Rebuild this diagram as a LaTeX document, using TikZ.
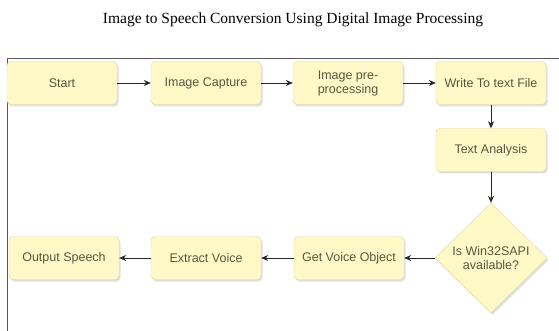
\documentclass[tikz,border=0pt]{standalone}
\usepackage{fontspec}
\setmainfont{Liberation Serif}
\newfontfamily\boxfont{Liberation Sans}
\usetikzlibrary{shapes.geometric,shadows,arrows.meta}
\definecolor{boxfill}{HTML}{FFF9C8}
\definecolor{boxline}{HTML}{E2D79C}
\definecolor{boxtext}{HTML}{57573F}
\definecolor{framegray}{HTML}{5A5A5A}
\tikzset{
  stepbox/.style={draw=boxline, fill=boxfill, rounded corners=4pt,
    minimum width=110pt, minimum height=43pt, align=center,
    text=boxtext, font=\boxfont\fontsize{12.5}{14}\selectfont,
    drop shadow={shadow xshift=1.5pt, shadow yshift=-2pt, opacity=0.25}},
  decision/.style={stepbox, diamond, rounded corners=0pt,
    minimum width=112pt, minimum height=110pt, inner sep=0pt},
  flow/.style={-{Stealth[length=7pt,width=6pt]}, draw=black!85, line width=0.9pt}
}
\begin{document}
\begin{tikzpicture}[x=1pt,y=-1pt]
  \useasboundingbox (0,0) rectangle (559,331);
  \node[font=\fontsize{15.5}{18}\selectfont] (title) at (293,20)
    {Image to Speech Conversion Using Digital Image Processing};
  % frame
  \draw[framegray, line width=1pt] (7,331) -- (7,59) -- (559,59);
  % top row
  \node[stepbox] (start) at (62,83) {Start};
  \node[stepbox] (capture) at (206,83) {Image Capture};
  \node[stepbox] (prep) at (348,83) {Image pre-\\processing};
  \node[stepbox] (write) at (491,83) {Write To text File};
  % right column
  \node[stepbox] (analysis) at (491,150) {Text Analysis};
  \node[decision] (sapi) at (491,258) {Is Win32SAPI\\available?};
  % bottom row
  \node[stepbox] (voice) at (349,258) {Get Voice Object};
  \node[stepbox] (extract) at (206,258) {Extract Voice};
  \node[stepbox] (output) at (64,258) {Output Speech};
  \begin{scope}[flow]
    \draw (start) to (capture);
    \draw (capture) to (prep);
    \draw (prep) to (write);
    \draw (write) to (analysis);
    \draw (analysis) to (sapi);
    \draw (sapi) to (voice);
    \draw (voice) to (extract);
    \draw (extract) to (output);
  \end{scope}
\end{tikzpicture}
\end{document}
